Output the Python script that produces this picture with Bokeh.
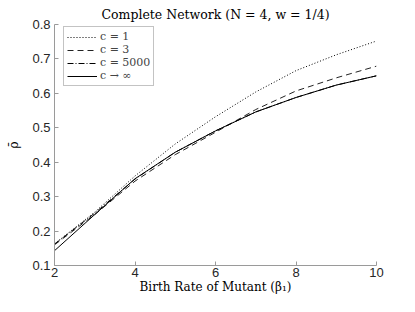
from bokeh.plotting import figure
from bokeh.models import Range1d, Legend, LegendItem, FixedTicker
from bokeh.embed import file_html
from bokeh.resources import INLINE

# Data
beta = [2, 3, 4, 5, 6, 7, 8, 9, 10]
rho_c1 = [0.163, 0.255, 0.360, 0.453, 0.532, 0.604, 0.666, 0.712, 0.752]
rho_c3 = [0.160, 0.248, 0.345, 0.422, 0.487, 0.553, 0.607, 0.645, 0.679]
rho_c5000 = [0.162, 0.252, 0.351, 0.429, 0.491, 0.546, 0.588, 0.624, 0.651]
rho_inf = [0.143, 0.248, 0.352, 0.429, 0.491, 0.546, 0.588, 0.624, 0.651]

x_ticks = [2, 4, 6, 8, 10]
y_ticks = [0.1, 0.2, 0.3, 0.4, 0.5, 0.6, 0.7, 0.8]

serif = "DejaVu Serif"
sans = "Liberation Sans"

p = figure(width=399, height=296, output_backend="svg", toolbar_location=None,
           x_range=Range1d(2, 10), y_range=Range1d(0.1, 0.8),
           min_border_left=54, min_border_right=23, min_border_top=24,
           min_border_bottom=28, title="Complete Network (N = 4, w = 1/4)")
p.title.text_font = serif
p.title.text_font_size = "12.5px"
p.title.text_font_style = "normal"
p.title.align = "center"
p.title.text_color = "#000000"
p.title.offset = 0
p.title.standoff = 5

p.outline_line_color = None
p.grid.visible = False
p.background_fill_color = "white"
p.border_fill_color = "white"

for ax in (p.xaxis[0], p.yaxis[0]):
    ax.major_tick_in = 4
    ax.major_tick_out = 0
    ax.minor_tick_in = 0
    ax.minor_tick_out = 0
    ax.axis_line_color = "#9a9a9a"
    ax.major_tick_line_color = "#9a9a9a"
    ax.major_label_text_font = sans
    ax.major_label_text_font_size = "13px"
    ax.major_label_text_color = "#262626"
    ax.axis_label_text_font = serif
    ax.axis_label_text_font_size = "12px"
    ax.axis_label_text_font_style = "normal"
    ax.axis_label_text_color = "#000000"

p.xaxis.ticker = FixedTicker(ticks=x_ticks)
p.yaxis.ticker = FixedTicker(ticks=y_ticks)
p.xaxis.major_label_standoff = 2
p.yaxis.major_label_standoff = 4
p.xaxis.axis_label = "Birth Rate of Mutant (β₁)"
p.xaxis.axis_label_standoff = 0
p.yaxis.axis_label = "ρ̄"
p.yaxis.axis_label_standoff = 8

r1 = p.line(beta, rho_c1, line_color="#000000", line_width=1, line_dash="1 2")
r2 = p.line(beta, rho_c3, line_color="#222222", line_width=1, line_dash="6 4")
r3 = p.line(beta, rho_c5000, line_color="#000000", line_width=1, line_dash="6 2 1 2")
r4 = p.line(beta, rho_inf, line_color="#000000", line_width=1)

legend = Legend(items=[
    LegendItem(label="c = 1", renderers=[r1]),
    LegendItem(label="c = 3", renderers=[r2]),
    LegendItem(label="c = 5000", renderers=[r3]),
    LegendItem(label="c → ∞", renderers=[r4]),
], location=(9, 179))
legend.label_text_font = serif
legend.label_text_font_size = "11px"
legend.label_height = 12
legend.glyph_height = 12
legend.glyph_width = 30
legend.label_standoff = 3
legend.spacing = 0
legend.padding = 3
legend.margin = 0
legend.border_line_color = "#888888"
legend.border_line_width = 1
legend.background_fill_color = "white"
legend.background_fill_alpha = 1
p.add_layout(legend, "center")

open("out.html", "w").write(file_html(p, INLINE))
